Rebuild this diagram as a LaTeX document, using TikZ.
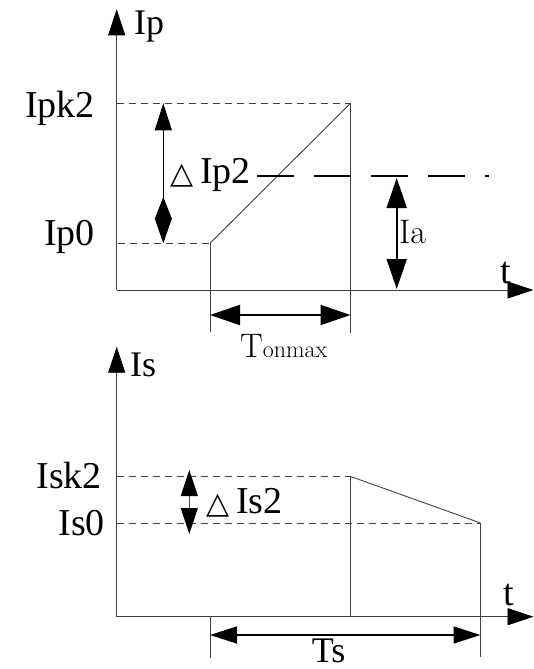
\documentclass[tikz,border=0pt]{standalone}
\usepackage{fontspec}
\newfontfamily\tnr{Liberation Serif}
\newfontfamily\djv{DejaVu Sans}
\usetikzlibrary{arrows.meta}
\tikzset{
  thinline/.style={line width=0.9pt, draw=black!75},
  dashline/.style={thinline, dash pattern=on 7pt off 5pt},
  axisline/.style={thinline, -{Triangle[length=26pt,width=17pt,color=black]}},
  bigdbl/.style={line width=1.9pt, {Triangle[length=30pt,width=20pt]}-{Triangle[length=30pt,width=20pt]}},
  middbl/.style={line width=1.3pt, {Triangle[length=27pt,width=17pt]}-{Triangle[length=27pt,width=17pt]}},
  lbl/.style={inner sep=0pt, font=\tnr\fontsize{38}{40}\selectfont},
  lmlbl/.style={inner sep=0pt, font=\fontsize{34}{36}\selectfont},
}
\newcommand{\dlt}{{\djv\fontsize{30}{32}\selectfont △}}
\begin{document}
\begin{tikzpicture}[x=1pt,y=-1pt]
\useasboundingbox (0,0) rectangle (534,669);
% ---------- top chart ----------
\coordinate (O1) at (116.7,290);
\coordinate (Y1) at (116.7,9.3);
\coordinate (X1) at (533.5,290);
\coordinate (Pk) at (350.5,103.3);
\coordinate (P0) at (210,243.3);
\coordinate (Pk0) at (116.7,103.3);
\coordinate (P00) at (118,243.3);
\coordinate (PkB) at (350.5,333);
\coordinate (P0B) at (210,332);
\coordinate (IaL) at (257,176);
\coordinate (IaR) at (489,176);
\coordinate (IaT) at (396.7,178);
\coordinate (IaB) at (396.7,289);
\coordinate (DpT) at (163.3,103.3);
\coordinate (DpB) at (163.3,243.3);
\coordinate (DpM) at (163.3,220);
\coordinate (DpU) at (163.3,197);
\coordinate (TonL) at (210,315);
\coordinate (TonR) at (350.5,315);

\draw[axisline] (O1) -- (Y1);
\draw[axisline] (O1) -- (X1);
\draw[dashline] (Pk0) -- (Pk);
\draw[dashline] (P00) -- (P0);
\draw[thinline] (P0) -- (Pk);
\draw[thinline] (Pk) -- (PkB);
\draw[thinline] (P0) -- (P0B);
\draw[line width=2pt, dash pattern=on 37pt off 20pt] (IaL) -- (IaR);
\draw[bigdbl] (IaT) -- (IaB);
\draw[bigdbl, line width=2pt] (TonL) -- (TonR);
\draw[line width=1pt, {Triangle[length=27pt,width=17pt]}-{Triangle[length=25pt,width=17pt]}] (DpT) -- (DpB);
\draw[line width=1pt, -{Triangle[length=22pt,width=17pt]}] (DpM) -- (DpU);

\node[lbl, anchor=base west] (lIp) at (134,35) {\fontsize{36}{38}\selectfont Ip};
\node[lbl, anchor=base east] (lIpk2) at (95,117.7) {Ipk2};
\node[lbl, anchor=base east] (lIp0) at (95,245) {Ip0};
\node[lbl, anchor=base east] (lDIp2) at (251,183.3) {\dlt\hspace{7pt}Ip2};
\node[lmlbl, anchor=base west] (lIa) at (399,243) {Ia};
\node[lbl, anchor=base west] (lt1) at (500,283) {t};
\node[lmlbl, anchor=base west] (lTon) at (240,357.3) {T{\fontsize{24}{26}\selectfont onmax}};

% ---------- bottom chart ----------
\coordinate (O2) at (116.7,616.7);
\coordinate (Y2) at (116.7,346.7);
\coordinate (X2) at (533.5,616.7);
\coordinate (Sk) at (350.7,476.5);
\coordinate (S0) at (480.5,523);
\coordinate (Sk0) at (116.7,476.5);
\coordinate (S00) at (116.7,523);
\coordinate (SkB) at (350.7,616.7);
\coordinate (S0B) at (480.5,657);
\coordinate (TsL0) at (210,616.7);
\coordinate (TsLB) at (210,658);
\coordinate (TsL) at (210,635);
\coordinate (TsR) at (480.5,635);
\coordinate (DsT) at (189.3,470);
\coordinate (DsB) at (189.3,534);

\draw[axisline] (O2) -- (Y2);
\draw[axisline] (O2) -- (X2);
\draw[dashline] (Sk0) -- (Sk);
\draw[dashline] (S00) -- (S0);
\draw[thinline] (Sk) -- (SkB);
\draw[thinline] (Sk) -- (S0);
\draw[thinline] (S0) -- (S0B);
\draw[thinline] (TsL0) -- (TsLB);
\draw[middbl] (TsL) -- (TsR);
\draw[line width=1pt, draw=black!70, {Triangle[length=26pt,width=17pt,color=black]}-{Triangle[length=26pt,width=17pt,color=black]}] (DsT) -- (DsB);

\node[lbl, anchor=base west] (lIs) at (130,376) {\fontsize{36}{38}\selectfont Is};
\node[lbl, anchor=base east] (lIsk2) at (102,488.3) {Isk2};
\node[lbl, anchor=base east] (lIs0) at (105,535) {Is0};
\node[lbl, anchor=base west] (lDIs2) at (206,513.3) {\dlt\hspace{7pt}Is2};
\node[lbl, anchor=base west] (lt2) at (503,605) {t};
\node[lbl, anchor=base] (lTs) at (328.5,662) {\fontsize{36}{38}\selectfont Ts};
\end{tikzpicture}
\end{document}
